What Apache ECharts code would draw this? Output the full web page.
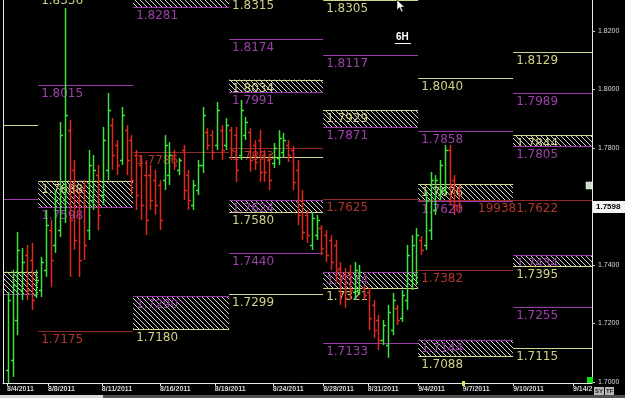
<!DOCTYPE html>
<html><head><meta charset="utf-8">
<script src="https://cdn.jsdelivr.net/npm/echarts@6/dist/echarts.min.js"></script>
<style>html,body{margin:0;padding:0;background:#000;}#c{width:625px;height:398px;}</style>
</head><body><div id="c"></div>
<script>
// ---- data ----
const weekEdges = [0, 7.4, 27.4, 47.6, 67.4, 87.4, 107.4, 124];
const dateTicks = [0.84, 9.47, 20.8, 33.05, 44.6, 56.8, 67.4, 76.8, 87.4, 96.8, 107.4, 120];
const dateLabels = ['8/4/2011','8/8/2011','8/11/2011','8/16/2011','8/19/2011','8/24/2011','8/28/2011','8/31/2011','9/4/2011','9/7/2011','9/10/2011','9/14/2'];
const priceTicks = [1.70, 1.72, 1.74, 1.76, 1.78, 1.80, 1.82];
const lastPrice = 1.7598;

const opens = [1.7041,1.7075,1.7212,1.7314,1.7434,1.7417,1.7297,1.7314,1.7383,1.7519,
1.7468,1.7519,1.7622,1.7861,1.7725,1.7622,1.7656,1.7519,1.7622,1.7707,
1.7639,1.7725,1.7878,1.7810,1.7759,1.7861,1.7827,1.7776,1.7742,1.7707,
1.7707,1.7690,1.7673,1.7690,1.7707,1.7776,1.7725,1.7793,1.7707,1.7605,
1.7656,1.7742,1.7855,1.7844,1.7810,1.7861,1.7810,1.7861,1.7844,1.7776,
1.7844,1.7855,1.7810,1.7827,1.7776,1.7759,1.7749,1.7766,1.7786,1.7810,
1.7793,1.7725,1.7622,1.7571,1.7468,1.7502,1.7526,1.7502,1.7485,1.7468,
1.7389,1.7365,1.7376,1.7307,1.7314,1.7321,1.7307,1.7263,1.7212,1.7143,
1.7126,1.7177,1.7253,1.7218,1.7280,1.7348,1.7365,1.7485,1.7468,1.7519,
1.7588,1.7639,1.7656,1.7793,1.7690,1.7656];
const highs = [1.7307,1.7383,1.7513,1.7458,1.7468,1.7475,1.7383,1.7427,1.7588,1.7554,
1.7656,1.7889,1.8279,1.7896,1.7759,1.7656,1.7690,1.7793,1.7776,1.7742,
1.7872,1.7988,1.7902,1.7827,1.7940,1.7878,1.7844,1.7793,1.7776,1.7759,
1.7742,1.7725,1.7690,1.7844,1.7820,1.7793,1.7766,1.7810,1.7725,1.7690,
1.7759,1.7940,1.7868,1.7861,1.7957,1.7878,1.7902,1.7872,1.7872,1.7964,
1.7906,1.7868,1.7827,1.7861,1.7793,1.7776,1.7817,1.7861,1.7851,1.7827,
1.7807,1.7759,1.7656,1.7588,1.7581,1.7571,1.7536,1.7519,1.7502,1.7485,
1.7410,1.7389,1.7400,1.7410,1.7400,1.7331,1.7321,1.7280,1.7229,1.7212,
1.7263,1.7304,1.7263,1.7314,1.7468,1.7502,1.7526,1.7499,1.7656,1.7718,
1.7707,1.7759,1.7810,1.7810,1.7707,1.7673];
const lows = [1.6996,1.7017,1.7160,1.7280,1.7280,1.7246,1.7287,1.7290,1.7359,1.7324,
1.7441,1.7495,1.7543,1.7359,1.7451,1.7359,1.7417,1.7485,1.7588,1.7519,
1.7605,1.7690,1.7725,1.7707,1.7742,1.7707,1.7639,1.7588,1.7554,1.7502,
1.7588,1.7571,1.7519,1.7656,1.7673,1.7725,1.7707,1.7622,1.7588,1.7588,
1.7639,1.7714,1.7793,1.7759,1.7793,1.7759,1.7793,1.7759,1.7684,1.7759,
1.7827,1.7718,1.7725,1.7684,1.7684,1.7656,1.7731,1.7742,1.7766,1.7752,
1.7656,1.7536,1.7485,1.7475,1.7451,1.7485,1.7434,1.7410,1.7383,1.7342,
1.7263,1.7253,1.7280,1.7280,1.7297,1.7280,1.7177,1.7150,1.7109,1.7126,
1.7082,1.7160,1.7194,1.7205,1.7246,1.7314,1.7331,1.7434,1.7451,1.7485,
1.7571,1.7622,1.7639,1.7605,1.7571,1.7581];
const closes = [1.7280,1.7331,1.7451,1.7410,1.7314,1.7280,1.7348,1.7410,1.7536,1.7417,
1.7622,1.7844,1.7913,1.7554,1.7485,1.7417,1.7468,1.7742,1.7725,1.7571,
1.7827,1.7930,1.7776,1.7742,1.7913,1.7759,1.7690,1.7639,1.7605,1.7554,
1.7622,1.7605,1.7554,1.7810,1.7776,1.7742,1.7759,1.7656,1.7622,1.7673,
1.7742,1.7913,1.7810,1.7786,1.7930,1.7793,1.7878,1.7793,1.7725,1.7930,
1.7889,1.7759,1.7752,1.7718,1.7718,1.7690,1.7800,1.7834,1.7827,1.7776,
1.7684,1.7571,1.7513,1.7502,1.7560,1.7554,1.7458,1.7434,1.7410,1.7383,
1.7297,1.7287,1.7314,1.7383,1.7376,1.7297,1.7218,1.7177,1.7143,1.7194,
1.7239,1.7280,1.7212,1.7297,1.7434,1.7468,1.7502,1.7451,1.7622,1.7690,
1.7690,1.7742,1.7793,1.7673,1.7605,1.7598];

// [week, price, label, kind]
const levels = [
[0,1.7879,'','y'],[0,1.7627,'','p'],[0,1.7377,'','y'],[0,1.7300,'','p'],
[1,1.8334,'1.8336','y'],[1,1.8015,'1.8015','p'],[1,1.7688,'1.7688','y'],[1,1.7598,'1.7598','p'],[1,1.7175,'1.7175','r'],
[2,1.8281,'1.8281','p'],[2,1.7786,'1.7786','r'],[2,1.7292,'1.7290','p'],[2,1.7180,'1.7180','y'],
[3,1.8316,'1.8315','y'],[3,1.8174,'1.8174','p'],[3,1.8034,'1.8034','y'],[3,1.7991,'1.7991','p'],[3,1.7800,'1.7803','r'],[3,1.7769,'','y'],
[3,1.7622,'1.7624','p'],[3,1.7580,'1.7580','y'],[3,1.7440,'1.7440','p'],[3,1.7299,'1.7299','y'],
[4,1.8305,'1.8305','y'],[4,1.8117,'1.8117','p'],[4,1.7929,'1.7929','y'],[4,1.7871,'1.7871','p'],[4,1.7625,'1.7625','r'],
[4,1.7374,'1.7374','p'],[4,1.7321,'1.7321','y'],[4,1.7133,'1.7133','p'],
[5,1.8040,'1.8040','y'],[5,1.7858,'1.7858','p'],[5,1.7676,'1.7676','y'],[5,1.7622,'','r'],[5,1.7620,'1.7620','p'],
[5,1.7382,'1.7382','r'],[5,1.7144,'1.7144','p'],[5,1.7088,'1.7088','y'],
[6,1.8129,'1.8129','y'],[6,1.7989,'1.7989','p'],[6,1.7844,'1.7844','y'],[6,1.7805,'1.7805','p'],[6,1.7622,'1.7622','r'],
[6,1.7434,'1.7434','p'],[6,1.7395,'1.7395','y'],[6,1.7255,'1.7255','p'],[6,1.7115,'1.7115','y']
];
// [week, low, high]
const boxes = [[0,1.7300,1.7377],[1,1.7598,1.7688],[2,1.8281,1.8330],[2,1.7180,1.7292],
[3,1.7991,1.8034],[3,1.7580,1.7622],[4,1.7871,1.7929],[4,1.7321,1.7374],
[5,1.7620,1.7676],[5,1.7088,1.7144],[6,1.7805,1.7844],[6,1.7395,1.7434]];
// [x, price, text, kind]
const notes = [[100,1.7622,'19938','r']];

// ---- styles ----
const COL = {y:{line:'#d4d48c',text:'#d0d088'}, p:{line:'#9c3caa',text:'#9c40aa'}, r:{line:'#8e2a22',text:'#b4362a'}};
const LFONT = '12px "DejaVu Sans"';
function hatch(){
  const n=5, c=document.createElement('canvas'); c.width=n; c.height=n;
  const g=c.getContext('2d'); g.fillStyle='#d4d4d4';
  for(let i=0;i<n;i++) g.fillRect(i,i,1,1);
  return c;
}
const HATCH = hatch();

const chart = echarts.init(document.getElementById('c'), null, {renderer:'canvas'});
const yMin = 1.6996, yMax = 1.8306;

const barData = opens.map((o,i)=>[i+1, o, highs[i], lows[i], closes[i]]);
const levelData = levels.map((l,i)=>[weekEdges[l[0]], weekEdges[l[0]+1], l[1], i]);
const boxData = boxes.map(b=>[weekEdges[b[0]], weekEdges[b[0]+1], b[1], b[2]]);

const option = {
  backgroundColor:'#000',
  animation:false,
  grid:{left:3,right:33,top:0,bottom:15},
  xAxis:{type:'value',min:0,max:124,
    axisLine:{onZero:false,lineStyle:{color:'#e8e8e8',width:1}},
    axisTick:{customValues:dateTicks,length:3,lineStyle:{color:'#e8e8e8'}},
    axisLabel:{customValues:dateTicks,align:'left',margin:3,color:'#d8d8d8',fontSize:7,fontFamily:'Liberation Sans',fontWeight:'bold',
      formatter:(v)=>{let k=0,d=1e9;dateTicks.forEach((t,i)=>{if(Math.abs(t-v)<d){d=Math.abs(t-v);k=i;}});return dateLabels[k];}},
    splitLine:{show:false}},
  yAxis:{type:'value',position:'right',min:yMin,max:yMax,
      axisLine:{show:true,onZero:false,lineStyle:{color:'#e8e8e8',width:1}},
      axisTick:{show:true,customValues:priceTicks,length:3,inside:false,lineStyle:{color:'#d0d0d0'}},
      axisLabel:{customValues:priceTicks,margin:6,color:'#d8d8d8',fontSize:7,fontFamily:'Liberation Sans',formatter:v=>v.toFixed(4)},
      splitLine:{show:false}},
  series:[
    {type:'custom',clip:false,z:1,data:boxData,encode:{x:[0,1],y:[2,3]},
      renderItem:(p,api)=>{
        const a=api.coord([api.value(0),api.value(3)]), b=api.coord([api.value(1),api.value(2)]);
        return {type:'rect',shape:{x:a[0],y:a[1],width:b[0]-a[0],height:b[1]-a[1]},
          style:{fill:{image:HATCH,repeat:'repeat'}}};
      }},
    {type:'custom',clip:false,z:2,data:levelData,encode:{x:[0,1],y:2},
      renderItem:(p,api)=>{
        const idx=api.value(3), lv=levels[idx], c=COL[lv[3]];
        const a=api.coord([api.value(0),api.value(2)]), b=api.coord([api.value(1),api.value(2)]);
        const y=Math.round(a[1])+0.5;
        const ch=[{type:'line',shape:{x1:a[0],y1:y,x2:b[0],y2:y},style:{stroke:c.line,lineWidth:1}}];
        if(lv[2]) ch.push({type:'text',x:a[0]+3,y:y+2,style:{text:lv[2],fill:c.text,font:LFONT,textVerticalAlign:'top',verticalAlign:'top'}});
        return {type:'group',children:ch};
      }},
    {type:'custom',clip:false,z:3,data:notes.map(n=>[n[0],n[1]]),encode:{x:0,y:1},
      renderItem:(p,api)=>{
        const n=notes[p.dataIndex]; const a=api.coord([api.value(0),api.value(1)]);
        return {type:'text',x:a[0],y:Math.round(a[1])+2.5,style:{text:n[2],fill:COL[n[3]].text,font:LFONT,textVerticalAlign:'top',verticalAlign:'top'}};
      }},
    {type:'custom',clip:false,z:5,data:barData,encode:{x:0,y:[1,2,3,4]},
      renderItem:(p,api)=>{
        const x=api.value(0),o=api.value(1),h=api.value(2),l=api.value(3),c=api.value(4);
        const col=c>=o?'#3ee23e':'#dc2a20';
        const H=api.coord([x,h]),L=api.coord([x,l]),O=api.coord([x,o]),C=api.coord([x,c]);
        const xx=Math.round(H[0])+0.5;
        const st={stroke:col,lineWidth:1.5};
        return {type:'group',children:[
          {type:'line',shape:{x1:xx,y1:H[1],x2:xx,y2:L[1]},style:st},
          {type:'line',shape:{x1:xx-2.5,y1:Math.round(O[1])+0.5,x2:xx,y2:Math.round(O[1])+0.5},style:st},
          {type:'line',shape:{x1:xx,y1:Math.round(C[1])+0.5,x2:xx+2.5,y2:Math.round(C[1])+0.5},style:st}
        ]};
      }},
    {type:'custom',clip:false,z:10,data:[[124,lastPrice]],encode:{x:0,y:1},
      renderItem:(p,api)=>{
        const a=api.coord([api.value(0),api.value(1)]);
        return {type:'group',children:[
          {type:'rect',shape:{x:a[0]+1,y:Math.round(a[1])-6,width:33,height:12},style:{fill:'#f4f4f4'}},
          {type:'text',x:a[0]+4,y:Math.round(a[1]),style:{text:lastPrice.toFixed(4),fill:'#000',font:'bold 8px "Liberation Sans"',textVerticalAlign:'middle',verticalAlign:'middle'}}
        ]};
      }}
  ],
  graphic:[
    {type:'line',z:100,shape:{x1:3.5,y1:0,x2:3.5,y2:383},style:{stroke:'#e8e8e8',lineWidth:1}},
    {type:'text',left:396,top:32,z:100,style:{text:'6H',fill:'#ffffff',font:'bold 10px "Liberation Sans"'}},
    {type:'line',z:100,shape:{x1:395,y1:43.5,x2:411,y2:43.5},style:{stroke:'#ffffff',lineWidth:1}},
    {type:'polygon',z:100,shape:{points:[[397,0],[397,10],[399.5,7.5],[401.5,12],[403,11.3],[401,7],[404.5,7]]},style:{fill:'#ffffff',stroke:'#000',lineWidth:0.5}},
    {type:'rect',z:100,shape:{x:586,y:182,width:6,height:7},style:{fill:'#c8dcc8',stroke:'#ffffff',lineWidth:0.5}},
    {type:'rect',z:100,shape:{x:587,y:377,width:6,height:6},style:{fill:'#10e010'}},
    {type:'rect',z:100,shape:{x:462,y:381,width:3,height:5},style:{fill:'#e6e060'}},
    {type:'rect',z:100,shape:{x:594,y:387,width:10,height:8},style:{fill:'#b8b8b8'}},
    {type:'text',z:101,left:595,top:388,style:{text:'SY',fill:'#202020',font:'bold 6px "Liberation Sans"'}},
    {type:'rect',z:100,shape:{x:605,y:387,width:9,height:8},style:{fill:'#b8b8b8'}},
    {type:'text',z:101,left:606,top:388,style:{text:'TF',fill:'#202020',font:'bold 6px "Liberation Sans"'}},
    {type:'rect',z:100,shape:{x:0,y:395,width:625,height:3},style:{fill:'#505050'}},
    {type:'rect',z:101,shape:{x:0,y:395,width:103,height:3},style:{fill:'#d8d8d8'}}
  ]
};
chart.setOption(option);
</script>
</body></html>
